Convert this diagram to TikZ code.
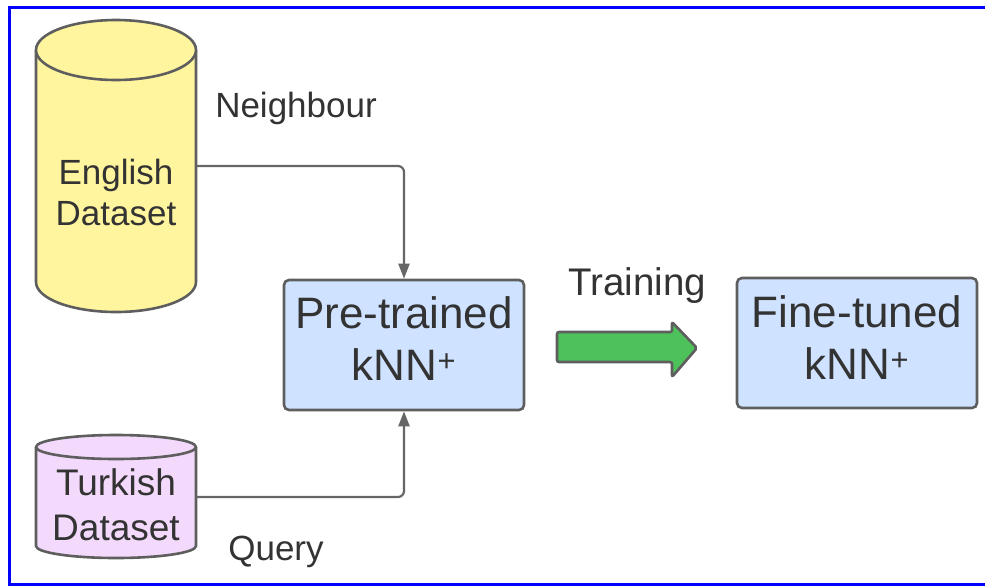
\documentclass[tikz,border=0pt]{standalone}
\usepackage{fontspec}
\setmainfont{Liberation Sans}
\usetikzlibrary{arrows.meta}

\definecolor{inkgray}{HTML}{333333}
\definecolor{edgegray}{HTML}{5E5E5E}
\definecolor{linegray}{HTML}{666666}
\definecolor{dbyellow}{HTML}{FFF59E}
\definecolor{dbpink}{HTML}{F3D9FB}
\definecolor{modelblue}{HTML}{CFE2FF}
\definecolor{arrowgreen}{HTML}{4DC25A}
\definecolor{frameblue}{HTML}{0000FF}

\tikzset{
  cylbody/.style={draw=edgegray, line width=2.6pt, line join=round},
  modelbox/.style={draw=edgegray, fill=modelblue, line width=2.6pt,
    rounded corners=5pt, minimum width=240pt, minimum height=130pt, inner sep=0pt},
  modeltext/.style={text=inkgray, align=center, inner sep=0pt,
    font=\fontsize{44}{52}\selectfont},
  dbtext/.style={text=inkgray, align=center, inner sep=0pt},
  edgelabel/.style={text=inkgray, inner sep=0pt, font=\fontsize{35}{42}\selectfont},
  conn/.style={draw=linegray, line width=2.2pt, rounded corners=6pt,
    -{Triangle[length=15pt,width=11pt]}},
  hollow/.style={inner sep=0pt, outer sep=0pt}
}

\begin{document}
\begin{tikzpicture}[x=1pt,y=1pt]
\useasboundingbox (0,0) rectangle (985,-587);

% outer frame
\draw[frameblue, line width=3.4pt] (9.5,-7.5) rectangle (995,-584.5);

% English dataset cylinder
\path[fill=dbyellow] (36,-50) -- (36,-282)
  arc[start angle=180, end angle=360, x radius=80, y radius=30] -- (196,-50) -- cycle;
\draw[cylbody] (36,-50) -- (36,-282)
  arc[start angle=180, end angle=360, x radius=80, y radius=30] -- (196,-50);
\draw[cylbody, fill=dbyellow] (116,-50) ellipse[x radius=80, y radius=30];
\node[hollow, minimum width=160pt, minimum height=232pt] (eng) at (116,-166) {};
\node[dbtext, font=\fontsize{35}{41}\selectfont] (engtxt) at (116,-192) {English\\Dataset};

% Turkish dataset cylinder
\path[fill=dbpink] (36,-447) -- (36,-546)
  arc[start angle=180, end angle=360, x radius=80, y radius=12] -- (196,-447) -- cycle;
\draw[cylbody] (36,-447) -- (36,-546)
  arc[start angle=180, end angle=360, x radius=80, y radius=12] -- (196,-447);
\draw[cylbody, fill=dbpink] (116,-447) ellipse[x radius=80, y radius=12];
\node[hollow, minimum width=160pt, minimum height=99pt] (tur) at (116,-497) {};
\node[dbtext, font=\fontsize{37}{45}\selectfont] (turtxt) at (116,-505) {Turkish\\Dataset};

% model boxes
\node[modelbox] (pre) at (404,-345) {};
\node[modeltext] (pretxt) at (404,-339) {Pre-trained\\kNN\textsuperscript{+}};
\node[modelbox] (fine) at (857,-343) {};
\node[modeltext] (finetxt) at (857,-338) {Fine-tuned\\kNN\textsuperscript{+}};

% connectors into the pre-trained model
\draw[conn] (eng.east) -| (pre.north);
\draw[conn] (tur.east) -| (pre.south);

% edge labels
\node[edgelabel] (nb) at (296,-108) {Neighbour};
\node[edgelabel] (qr) at (276,-552) {Query};
\node[edgelabel, font=\fontsize{38.5}{45}\selectfont] (tr) at (637,-286) {Training};

% training block arrow
\draw[draw=edgegray, fill=arrowgreen, line width=2.6pt, line join=round, rounded corners=2pt]
  (557,-332) -- (672,-332) -- (672,-322) -- (697,-348) -- (672,-377)
  -- (672,-362) -- (557,-362) -- cycle;
\end{tikzpicture}
\end{document}
